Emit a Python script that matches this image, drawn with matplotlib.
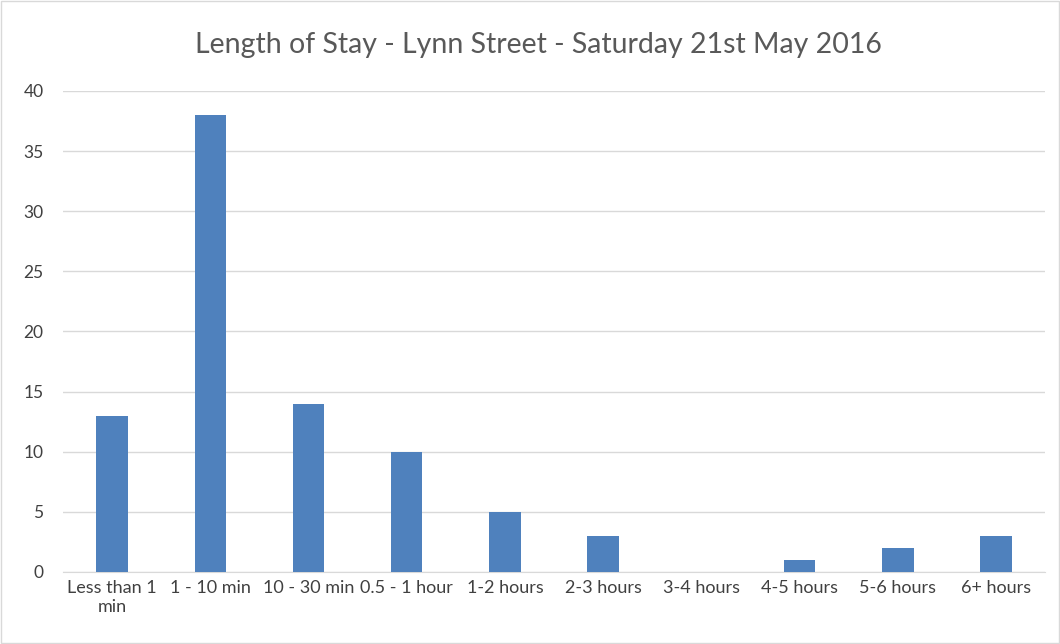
import matplotlib.pyplot as plt
import numpy as np

categories = ['Less than 1\nmin', '1 - 10 min', '10 - 30 min', '0.5 - 1 hour', '1-2 hours',
              '2-3 hours', '3-4 hours', '4-5 hours', '5-6 hours', '6+ hours']
counts = [13, 38, 14, 10, 5, 3, 0, 1, 2, 3]

plt.rcParams['font.family'] = ['Lato', 'DejaVu Sans']

fig = plt.figure(figsize=(10.6, 6.44), dpi=100)
ax = fig.add_axes([0.0594, 0.112, 0.9266, 0.7467])

x = np.arange(len(categories))
ax.bar(x, counts, width=0.32, color='#4F81BD', zorder=3)

ax.set_xlim(-0.5, len(categories) - 0.5)
ax.set_ylim(0, 40)
ax.set_yticks(range(0, 41, 5))
ax.set_xticks(x)
ax.set_xticklabels(categories, fontsize=13, color='#404040', linespacing=1.25)
ax.tick_params(axis='y', labelsize=12.5, labelcolor='#404040', length=0, pad=14)
ax.tick_params(axis='x', length=0, pad=6)
ax.grid(axis='y', color='#D9D9D9', linewidth=1, zorder=0)
for s in ['top', 'right', 'left']:
    ax.spines[s].set_visible(False)
ax.spines['bottom'].set_color('#D9D9D9')

fig.text(0.508, 0.93, 'Length of Stay - Lynn Street - Saturday 21st May 2016',
         ha='center', va='center', fontsize=20.5, color='#595959')

# outer chart border
fig.patches.append(plt.Rectangle((0.001, 0.001), 0.998, 0.998, transform=fig.transFigure,
                                 fill=False, edgecolor='#D9D9D9', linewidth=1))

fig.savefig('out.png', dpi=100)
